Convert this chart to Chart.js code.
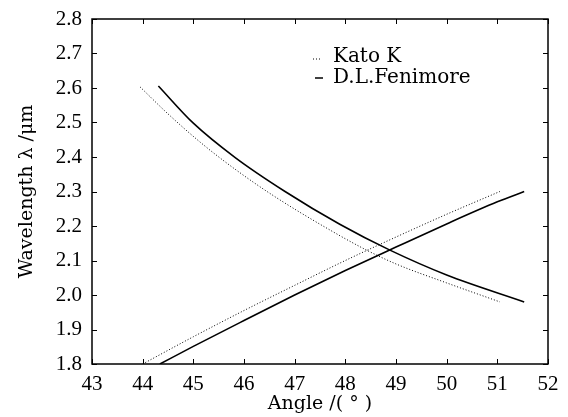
<!DOCTYPE html>
<html>
<head>
<meta charset="utf-8">
<script src="https://cdn.jsdelivr.net/npm/chart.js@4.4.0/dist/chart.umd.min.js"></script>
<style>
  html, body { margin: 0; padding: 0; background: #fff; }
  #wrap { width: 568px; height: 417px; }
</style>
</head>
<body>
<div id="wrap"><canvas id="chart" width="568" height="417"></canvas></div>
<script>
// ---- data ----
var seriesNames = ["Kato K", "D.L.Fenimore"];

// Kato K, falling branch
var katoDownX = [43.95, 44.5, 45.16, 45.82, 46.61, 47.76, 48.42, 49.0, 50.0, 51.05];
var katoDownY = [2.603, 2.525, 2.44, 2.365, 2.285, 2.183, 2.13, 2.09, 2.035, 1.98];
// Kato K, rising branch
var katoUpX = [44.0, 45.0, 46.0, 47.0, 48.0, 49.0, 50.0, 51.05];
var katoUpY = [1.80, 1.879, 1.955, 2.028, 2.10, 2.168, 2.234, 2.30];

// D.L.Fenimore, falling branch
var fenDownX = [44.31, 45.0, 45.82, 46.81, 47.89, 48.88, 50.0, 51.53];
var fenDownY = [2.606, 2.498, 2.399, 2.30, 2.205, 2.13, 2.058, 1.98];
// D.L.Fenimore, rising branch
var fenUpX = [44.34, 45.0, 46.0, 47.0, 48.0, 49.0, 50.0, 51.0, 51.53];
var fenUpY = [1.80, 1.851, 1.926, 2.0, 2.071, 2.139, 2.206, 2.27, 2.30];

var xTicks = [43, 44, 45, 46, 47, 48, 49, 50, 51, 52];
var yTicks = [1.8, 1.9, 2.0, 2.1, 2.2, 2.3, 2.4, 2.5, 2.6, 2.7, 2.8];

function pts(xs, ys) {
    return xs.map(function (x, i) { return { x: x, y: ys[i] }; });
}

var tickFont = { family: "'Liberation Serif', serif", size: 21 };
var titleFont = { family: "'DejaVu Serif', serif", size: 19 };

// inward ticks on all four sides, plus the frame and the legend
var framePlugin = {
    id: 'frame',
    afterDraw: function (chart) {
        var ctx = chart.ctx;
        var a = chart.chartArea;
        var xs = chart.scales.x, ys = chart.scales.y;
        ctx.save();
        ctx.strokeStyle = '#000';
        ctx.lineWidth = 1.5;
        ctx.strokeRect(a.left, a.top, a.right - a.left, a.bottom - a.top);
        ctx.lineWidth = 1;
        var len = 5;
        ctx.beginPath();
        xTicks.forEach(function (v) {
            var px = Math.round(xs.getPixelForValue(v)) + 0.5;
            ctx.moveTo(px, a.bottom); ctx.lineTo(px, a.bottom - len);
            ctx.moveTo(px, a.top); ctx.lineTo(px, a.top + len);
        });
        yTicks.forEach(function (v) {
            var py = Math.round(ys.getPixelForValue(v)) + 0.5;
            ctx.moveTo(a.left, py); ctx.lineTo(a.left + len, py);
            ctx.moveTo(a.right, py); ctx.lineTo(a.right - len, py);
        });
        ctx.stroke();

        // legend
        var lx = a.left + 221, ly = a.top + 38;
        ctx.font = "20px 'DejaVu Serif', serif";
        ctx.fillStyle = '#000';
        ctx.textBaseline = 'middle';
        ctx.lineWidth = 1;
        ctx.setLineDash([1, 2]);
        ctx.beginPath(); ctx.moveTo(lx, ly + 2); ctx.lineTo(lx + 8, ly + 2); ctx.stroke();
        ctx.setLineDash([]);
        ctx.fillText(seriesNames[0], lx + 20, ly);
        ctx.lineWidth = 1.5;
        ctx.beginPath(); ctx.moveTo(lx + 2, ly + 21); ctx.lineTo(lx + 10, ly + 21); ctx.stroke();
        ctx.fillText(seriesNames[1], lx + 20, ly + 21);
        ctx.restore();
    }
};

var dotted = { borderColor: '#000', borderWidth: 1, borderDash: [1, 2], showLine: true,
               pointRadius: 0, cubicInterpolationMode: 'monotone' };
var solid = { borderColor: '#000', borderWidth: 1.6, showLine: true,
              pointRadius: 0, cubicInterpolationMode: 'monotone' };

var config = {
    type: 'scatter',
    data: {
        datasets: [
            Object.assign({ label: seriesNames[0], data: pts(katoDownX, katoDownY) }, dotted),
            Object.assign({ label: seriesNames[0], data: pts(katoUpX, katoUpY) }, dotted),
            Object.assign({ label: seriesNames[1], data: pts(fenDownX, fenDownY) }, solid),
            Object.assign({ label: seriesNames[1], data: pts(fenUpX, fenUpY) }, solid)
        ]
    },
    options: {
        responsive: false,
        animation: false,
        devicePixelRatio: 1,
        layout: { padding: { top: 19, right: 20, left: 0, bottom: 0 } },
        plugins: { legend: { display: false }, tooltip: { enabled: false } },
        scales: {
            x: {
                type: 'linear', min: 43, max: 52,
                afterFit: function (s) { s.height = 53; },
                afterBuildTicks: function (s) { s.ticks = xTicks.map(function (v) { return { value: v }; }); },
                ticks: { font: tickFont, color: '#000', padding: 0 },
                grid: { display: false },
                border: { display: false },
                title: { display: true, text: 'Angle /( ° )', font: titleFont, color: '#000',
                         padding: { top: 0, bottom: 2 } }
            },
            y: {
                type: 'linear', min: 1.8, max: 2.8,
                afterFit: function (s) { s.width = 92; },
                afterBuildTicks: function (s) { s.ticks = yTicks.map(function (v) { return { value: v }; }); },
                ticks: { font: tickFont, color: '#000', padding: 2,
                         callback: function (v) { return Number(v).toFixed(1); } },
                grid: { display: false },
                border: { display: false },
                title: { display: true, text: 'Wavelength λ /μm', font: titleFont, color: '#000',
                         padding: { top: 16, bottom: 0 } }
            }
        }
    },
    plugins: [framePlugin]
};

window.onload = function () {
    var ctx = document.getElementById('chart').getContext('2d');
    window.myChart = new Chart(ctx, config);
};
</script>
</body>
</html>
